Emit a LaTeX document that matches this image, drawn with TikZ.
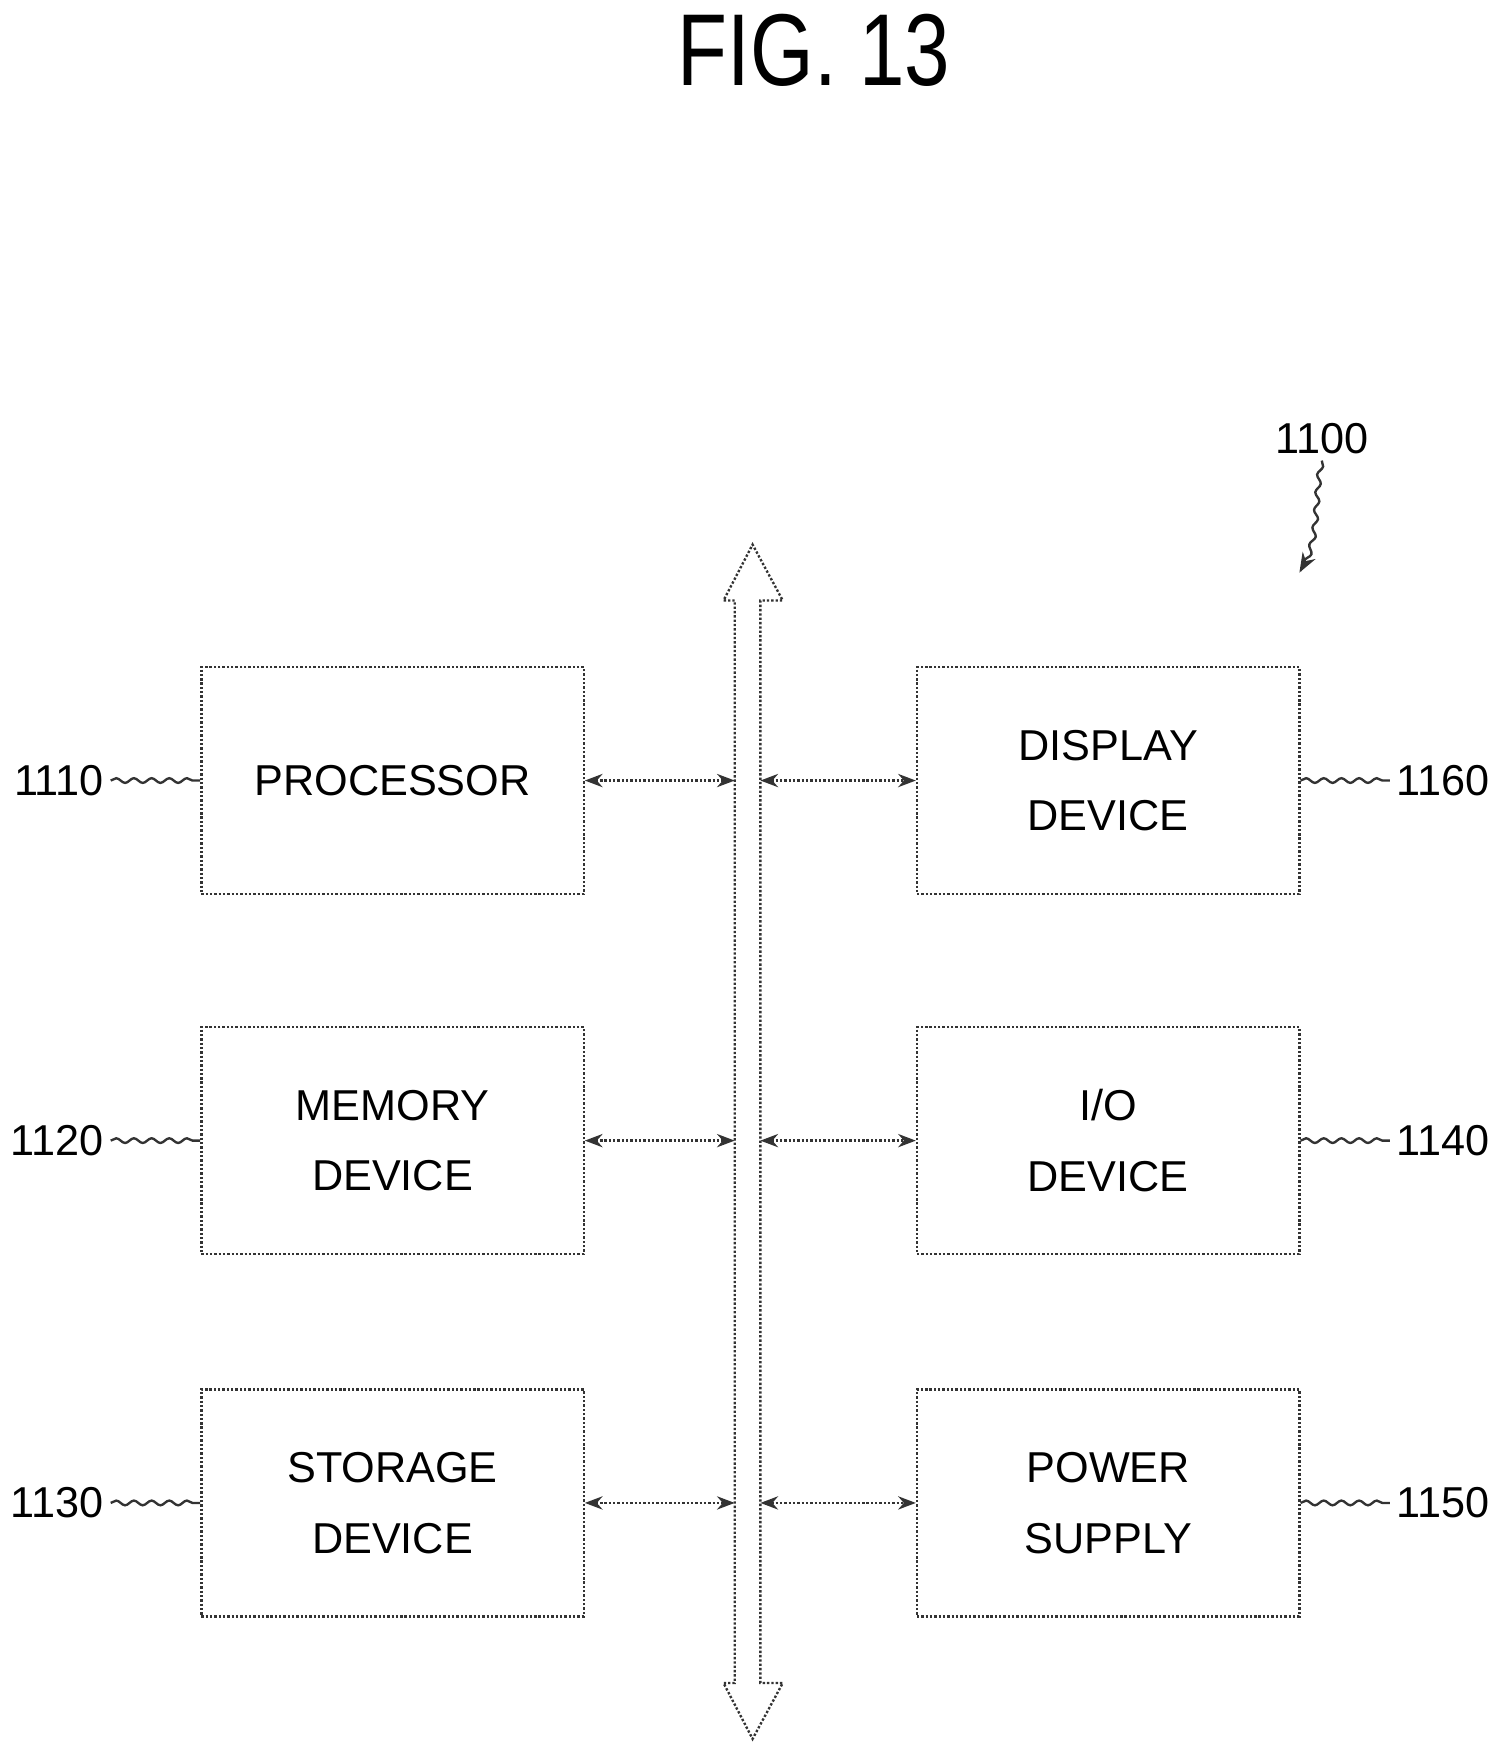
\documentclass[tikz,border=0pt]{standalone}
\usepackage{fontspec}
\setmainfont{Liberation Sans}
\usetikzlibrary{positioning, decorations.pathmorphing, arrows.meta}

\begin{document}
\begin{tikzpicture}[
    x=0.02cm, y=-0.02cm,
    block/.style={
        rectangle,
        draw=black!80,
        very thick,
        densely dotted,
        minimum width=6.84cm,
        minimum height=4.06cm,
        align=center,
        font=\fontsize{22}{36}\selectfont
    },
    ref/.style={font=\fontsize{22}{26}\selectfont},
    squig/.style={draw=black!80, very thick, decorate, decoration={snake, amplitude=1.2pt, segment length=9pt}},
    link/.style={draw=black!80, very thick, densely dotted, {Stealth[length=9pt]}-{Stealth[length=9pt]}}
]
    \useasboundingbox (0,0) rectangle (1350,1573);

    % title
    \node (title) [font=\fontsize{52}{56}\selectfont\addfontfeature{FakeStretch=0.8}] at (728,45) {FIG. 13};

    % system reference
    \node (sys) [ref] at (1182,392) {1100};
    \coordinate (sysend) at (1162,512);
    \draw[squig, -{Stealth[length=10pt]}] (sys.south) to[out=-100, in=60] (sysend);

    % bus
    \draw[very thick, draw=black!80, densely dotted]
        (657,537) -- (647,537) -- (673,487) -- (700,537) -- (680,537)
        -- (680,1505) -- (700,1505) -- (673,1555) -- (647,1505) -- (657,1505) -- cycle;

    % left column
    \node (proc) [block] at (351,698) {PROCESSOR};
    \node (mem)  [block] at (351,1020) {MEMORY\\DEVICE};
    \node (stor) [block] at (351,1344) {STORAGE\\DEVICE};

    % right column
    \node (disp) [block] at (991,698) {DISPLAY\\DEVICE};
    \node (io)   [block] at (991,1020) {I/O\\DEVICE};
    \node (pow)  [block] at (991,1344) {POWER\\SUPPLY};

    % bus taps
    \foreach \n/\y in {proc/698, mem/1020, stor/1344}{
        \coordinate (\n bus) at (657,\y);
        \draw[link] (\n.east) -- (\n bus);
    }
    \foreach \n/\y in {disp/698, io/1020, pow/1344}{
        \coordinate (\n bus) at (680,\y);
        \draw[link] (\n bus) -- (\n.west);
    }

    % reference numbers
    \foreach \n/\t in {proc/1110, mem/1120, stor/1130}{
        \node (\n ref) [ref, left=1.6cm of \n.west] {\t};
        \draw[squig] (\n ref.east) -- (\n.west);
    }
    \foreach \n/\t in {disp/1160, io/1140, pow/1150}{
        \node (\n ref) [ref, right=1.6cm of \n.east] {\t};
        \draw[squig] (\n.east) -- (\n ref.west);
    }
\end{tikzpicture}
\end{document}
